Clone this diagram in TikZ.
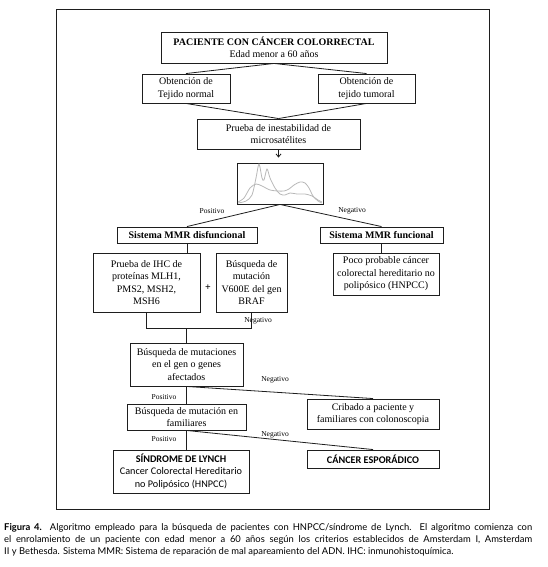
\documentclass[tikz,border=0pt]{standalone}
\usepackage{fontspec}
\setmainfont{Liberation Serif}
\newfontfamily\capfont{Lato}
\newfontfamily\lyfont{Carlito}
\usetikzlibrary{arrows.meta,calc}
\definecolor{inkgray}{HTML}{1E1E1E}
\definecolor{plotgray}{HTML}{B8B8B8}

\begin{document}
\begin{tikzpicture}[x=1pt,y=-1pt,
  box/.style={draw=inkgray,line width=0.9pt,align=center,inner sep=1pt,
    font=\fontsize{10}{12.5}\selectfont},
  lybox/.style={box,font=\lyfont\fontsize{10.2}{12.5}\selectfont},
  lbl/.style={inner sep=0pt,font=\fontsize{7.5}{9}\selectfont},
  link/.style={draw=inkgray,line width=0.8pt},
  capline/.style={anchor=base west,inner sep=0pt,font=\capfont\fontsize{9.4}{12}\selectfont}]
  \useasboundingbox (0,0) rectangle (547,567);
  \draw[inkgray,line width=1pt] (56,10) rectangle (489,509);

  % cabecera
  \node[box,minimum width=226,minimum height=31] (pac) at (274,47.5)
    {\textbf{PACIENTE CON CÁNCER COLORRECTAL}\\Edad menor a 60 años};
  \node[box,minimum width=88,minimum height=29] (tnorm) at (186,88.5)
    {Obtención de\\Tejido normal};
  \node[box,minimum width=97,minimum height=29] (ttum) at (366.5,88.5)
    {Obtención de\\tejido tumoral};
  \node[box,minimum width=163,minimum height=30] (inest) at (278.5,134)
    {Prueba de inestabilidad de\\microsatélites};
  \node[box,minimum width=86,minimum height=41] (chart) at (280,183.5) {};
  \draw[plotgray,line width=0.8pt] plot[smooth,tension=0.5] coordinates
    {(238,203) (246,201) (252,195) (256,178) (259,164) (262,178) (264,180)
     (267,169) (270,178) (275,188) (280,194) (285,195) (290,193) (297,194)
     (305,194) (312,196) (318,200) (322,202)};
  \draw[plotgray,line width=0.8pt] plot[smooth,tension=0.5] coordinates
    {(238,202) (244,198) (250,188) (256,184) (262,186) (270,190) (278,191)
     (284,191) (289,189) (294,185) (300,182) (305,183) (309,188) (313,196)
     (318,201) (322,203)};

  % ramas MMR
  \node[box,minimum width=140,minimum height=16] (disf) at (187,235)
    {\textbf{Sistema MMR disfuncional}};
  \node[box,minimum width=123,minimum height=16] (func) at (381.5,235)
    {\textbf{Sistema MMR funcional}};
  \node[box,minimum width=107,minimum height=59] (ihc) at (146.5,282.5)
    {Prueba de IHC de\\proteínas MLH1,\\PMS2, MSH2,\\MSH6};
  \node[box,minimum width=71,minimum height=59] (braf) at (251.5,282.5)
    {Búsqueda de\\mutación\\V600E del gen\\BRAF};
  \node[font=\bfseries\fontsize{10}{12}\selectfont,inner sep=0pt] (plus) at (208,288) {+};
  \node[box,minimum width=106,minimum height=42] (poco) at (386,274)
    {Poco probable cáncer\\colorectal hereditario no\\polipósico (HNPCC)};

  % genes y familiares
  \node[box,minimum width=113,minimum height=43] (mut) at (186.5,364.5)
    {Búsqueda de mutaciones\\en el gen o genes\\afectados};
  \node[box,minimum width=132,minimum height=30] (crib) at (373,414)
    {Cribado a paciente y\\familiares con colonoscopia};
  \node[box,minimum width=119,minimum height=26] (fam) at (186.5,417)
    {Búsqueda de mutación en\\familiares};
  \node[lybox,minimum width=136,minimum height=43] (lynch) at (181,471.5)
    {\textbf{SÍNDROME DE LYNCH}\\Cancer Colorectal Hereditario\\no Polipósico (HNPCC)};
  \node[lybox,minimum width=132,minimum height=18] (espor) at (373,459)
    {\textbf{CÁNCER ESPORÁDICO}};

  \coordinate (join) at (186.5,328);

  \draw[link] (pac.south) -- (tnorm.north);
  \draw[link] (pac.south) -- (ttum.north);
  \draw[link] (tnorm.south) -- (inest.north);
  \draw[link] (ttum.south) -- (inest.north);
  \draw[link,-{Straight Barb[length=3pt,width=5pt]},shorten >=5pt]
    (inest.south) -- (inest.south |- chart.north);
  \draw[link] (chart.south) -- (disf.north);
  \draw[link] (chart.south) -- (func.north);
  \draw[link] (disf.south) -- (disf.south |- ihc.north);
  \draw[link] (func.south) -- (func.south |- poco.north);
  \draw[link] (ihc.south) -- (ihc.south |- join) -- (braf.south |- join) -- (braf.south);
  \draw[link] (join) -- (mut.north);
  \draw[link] (mut.south) -- (fam.north);
  \draw[link] (mut.south) -- (crib.north);
  \draw[link] (fam.south) -- (fam.south |- lynch.north);
  \draw[link] (fam.south) -- (espor.north);

  \node[lbl] (pos1) at (212,211) {Positivo};
  \node[lbl] (neg1) at (352,211) {Negativo};
  \node[lbl] (neg2) at (258,321) {Negativo};
  \node[lbl] (neg3) at (275,380) {Negativo};
  \node[lbl] (pos2) at (164,397) {Positivo};
  \node[lbl] (neg4) at (275,435) {Negativo};
  \node[lbl] (pos3) at (164,439) {Positivo};

  % pie de figura
  \node[capline] (cap1) at (4,530) {\makebox[528pt][s]{\textbf{Figura 4.} Algoritmo empleado para la búsqueda de pacientes con HNPCC/síndrome de Lynch. El algoritmo comienza con}};
  \node[capline] (cap2) at (4,542) {\makebox[528pt][s]{el enrolamiento de un paciente con edad menor a 60 años según los criterios establecidos de Amsterdam I, Amsterdam}};
  \node[capline] (cap3) at (4,554) {II y Bethesda. Sistema MMR: Sistema de reparación de mal apareamiento del ADN. IHC: inmunohistoquímica.};
\end{tikzpicture}
\end{document}
